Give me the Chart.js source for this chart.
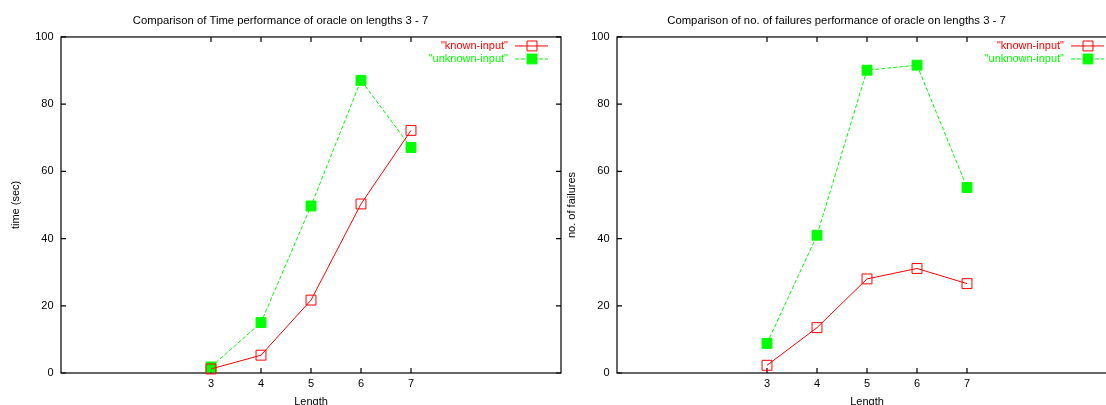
<!DOCTYPE html>
<html>
<head>
<meta charset="utf-8">
<script src="https://cdn.jsdelivr.net/npm/chart.js@4"></script>
<style>
html, body { margin: 0; padding: 0; background: #fff; overflow: hidden; width: 1106px; height: 405px; }
canvas { position: absolute; top: 0; }
#timeChart { left: 0; }
#failChart { left: 556px; }
</style>
</head>
<body>
<canvas id="timeChart" width="622" height="405"></canvas>
<canvas id="failChart" width="622" height="405"></canvas>
<script>
// --- data ---
const lengths = [3, 4, 5, 6, 7];
const seriesNames = ['"known-input"', '"unknown-input"'];
const timeKnown = [1.2, 5.3, 21.7, 50.3, 72.2];
const timeUnknown = [1.8, 15.0, 49.7, 87.1, 67.1];
const failKnown = [2.3, 13.5, 28.0, 31.1, 26.6];
const failUnknown = [8.8, 41.0, 90.1, 91.6, 55.2];
const xTicks = [3, 4, 5, 6, 7];
const yTicks = [0, 20, 40, 60, 80, 100];

const FONT = '"Liberation Sans", Arial, sans-serif';
const RED = '#ff0000';
const GREEN = '#00ff00';

// box round the plot, with gnuplot style inward ticks on all four sides
const framePlugin = {
    id: 'frame',
    beforeDatasetsDraw(chart) {
        const { ctx, chartArea: a, scales: { x, y } } = chart;
        ctx.save();
        ctx.strokeStyle = '#000';
        ctx.lineWidth = 1.2;
        ctx.strokeRect(a.left, a.top, a.right - a.left, a.bottom - a.top);
        ctx.beginPath();
        xTicks.forEach(v => {
            const px = x.getPixelForValue(v);
            ctx.moveTo(px, a.bottom); ctx.lineTo(px, a.bottom - 5);
            ctx.moveTo(px, a.top); ctx.lineTo(px, a.top + 5);
        });
        yTicks.forEach(v => {
            const py = y.getPixelForValue(v);
            ctx.moveTo(a.left, py); ctx.lineTo(a.left + 5, py);
            ctx.moveTo(a.right, py); ctx.lineTo(a.right - 5, py);
        });
        ctx.stroke();
        ctx.restore();
    }
};

// key in the top right corner of the plot
const keyPlugin = {
    id: 'key',
    afterDatasetsDraw(chart) {
        const { ctx, chartArea: a } = chart;
        ctx.save();
        chart.data.datasets.forEach((ds, i) => {
            const yy = a.top + 9 + i * 13;
            ctx.font = '11px ' + FONT;
            ctx.fillStyle = ds.borderColor;
            ctx.textAlign = 'right';
            ctx.textBaseline = 'middle';
            ctx.fillText(ds.label, a.right - 53, yy);

            ctx.strokeStyle = ds.borderColor;
            ctx.lineWidth = 1;
            ctx.setLineDash(ds.borderDash || []);
            ctx.beginPath();
            ctx.moveTo(a.right - 46, yy);
            ctx.lineTo(a.right - 13, yy);
            ctx.stroke();
            ctx.setLineDash([]);

            ctx.fillStyle = ds.pointBackgroundColor;
            Chart.helpers.drawPoint(ctx, { pointStyle: 'rect', radius: ds.pointRadius, borderWidth: ds.pointBorderWidth }, a.right - 29, yy);
        });
        ctx.restore();
    }
};

function series(values) {
    return lengths.map((l, i) => ({ x: l, y: values[i] }));
}

function makeChart(id, title, yTitle, known, unknown) {
    return new Chart(document.getElementById(id), {
        type: 'line',
        data: {
            datasets: [
                { label: seriesNames[0], data: series(known), borderColor: RED, borderWidth: 1,
                  pointStyle: 'rect', pointRadius: 7, pointBorderWidth: 1, pointBorderColor: RED,
                  pointBackgroundColor: 'rgba(0,0,0,0)', backgroundColor: 'rgba(0,0,0,0)', clip: false },
                { label: seriesNames[1], data: series(unknown), borderColor: GREEN, borderWidth: 1, borderDash: [4, 2],
                  pointStyle: 'rect', pointRadius: 7, pointBorderWidth: 1, pointBorderColor: GREEN,
                  pointBackgroundColor: GREEN, backgroundColor: GREEN, clip: false }
            ]
        },
        options: {
            responsive: false,
            animation: false,
            events: [],
            devicePixelRatio: 1,
            layout: { padding: { left: 0, right: 61, top: 0, bottom: 0 } },
            plugins: {
                legend: { display: false },
                tooltip: { enabled: false },
                title: {
                    display: true, text: title, color: '#000',
                    font: { family: FONT, size: 11.3, weight: 'normal', lineHeight: 1.2 },
                    padding: { top: 14.2, bottom: 9.2 }
                }
            },
            scales: {
                x: {
                    type: 'linear', min: 0, max: 10,
                    afterBuildTicks: s => { s.ticks = xTicks.map(v => ({ value: v })); },
                    afterFit: s => { s.height = 32; },
                    grid: { display: false, drawTicks: false },
                    border: { display: false },
                    ticks: { color: '#000', padding: 4, font: { family: FONT, size: 11 } },
                    title: { display: true, text: 'Length', color: '#000', padding: 0,
                             font: { family: FONT, size: 11, lineHeight: 0.6 } }
                },
                y: {
                    min: 0, max: 100,
                    afterBuildTicks: s => { s.ticks = yTicks.map(v => ({ value: v })); },
                    afterFit: s => { s.width = 61; },
                    grid: { display: false, drawTicks: false },
                    border: { display: false },
                    ticks: { color: '#000', padding: 7.5, font: { family: FONT, size: 11 } },
                    title: { display: true, text: yTitle, color: '#000', padding: { top: 9, bottom: 0 },
                             font: { family: FONT, size: 11, lineHeight: 1.2 } }
                }
            }
        },
        plugins: [framePlugin, keyPlugin]
    });
}

makeChart('timeChart', 'Comparison of Time performance of oracle on lengths 3 - 7', 'time (sec)', timeKnown, timeUnknown);
makeChart('failChart', 'Comparison of no. of failures performance of oracle on lengths 3 - 7', 'no. of failures', failKnown, failUnknown);
</script>
</body>
</html>
